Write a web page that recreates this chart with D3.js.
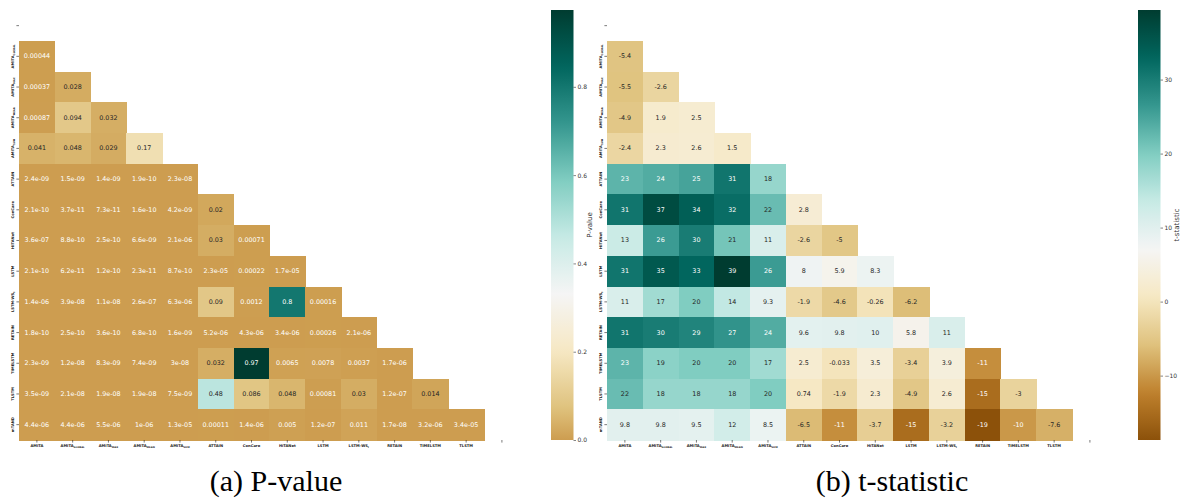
<!DOCTYPE html>
<html lang="en">
<head>
<meta charset="utf-8">
<title>P-value and t-statistic heatmaps</title>
<script src="https://cdn.jsdelivr.net/npm/d3@7/dist/d3.min.js"></script>
<style>
body{ margin:0; background:#fff; }
svg{ display:block; }
.tick-label{ font-family:"DejaVu Sans", sans-serif; font-weight:bold; fill:#1a1a1a; }
.annot{ font-family:"DejaVu Sans", sans-serif; }
.cbar text{ font-family:"DejaVu Sans", sans-serif; fill:#333; }
.caption{ font-family:"Liberation Serif", serif; fill:#000; }
</style>
</head>
<body>
<script>
// models, same order on both axes (row 0 and last column are fully masked)
var models = ["AMITA","AMITA_GLOBAL","AMITA_MAX","AMITA_MEAN","AMITA_SUM","ATTAIN","ConCare",
              "HiTANet","LSTM","LSTM-WS_t","RETAIN","TIMELSTM","TLSTM","mTAND"];

// lower triangle, row i has i values (columns 0..i-1)
var pValues = [
  [],
  [0.00044],
  [0.00037, 0.028],
  [0.00087, 0.094, 0.032],
  [0.041, 0.048, 0.029, 0.17],
  [2.4e-09, 1.5e-09, 1.4e-09, 1.9e-10, 2.3e-08],
  [2.1e-10, 3.7e-11, 7.3e-11, 1.6e-10, 4.2e-09, 0.02],
  [3.6e-07, 8.8e-10, 2.5e-10, 6.6e-09, 2.1e-06, 0.03, 0.00071],
  [2.1e-10, 6.2e-11, 1.2e-10, 2.3e-11, 8.7e-10, 2.3e-05, 0.00022, 1.7e-05],
  [1.4e-06, 3.9e-08, 1.1e-08, 2.6e-07, 6.3e-06, 0.09, 0.0012, 0.8, 0.00016],
  [1.8e-10, 2.5e-10, 3.6e-10, 6.8e-10, 1.6e-09, 5.2e-06, 4.3e-06, 3.4e-06, 0.00026, 2.1e-06],
  [2.3e-09, 1.2e-08, 8.3e-09, 7.4e-09, 3e-08, 0.032, 0.974, 0.0065, 0.0078, 0.0037, 1.7e-06],
  [3.5e-09, 2.1e-08, 1.9e-08, 1.9e-08, 7.5e-09, 0.48, 0.086, 0.048, 0.00081, 0.03, 1.2e-07, 0.014],
  [4.4e-06, 4.4e-06, 5.5e-06, 1e-06, 1.3e-05, 0.00011, 1.4e-06, 0.005, 1.2e-07, 0.011, 1.7e-08, 3.2e-06, 3.4e-05]
];

var tValues = [
  [],
  [-5.4],
  [-5.5, -2.6],
  [-4.9, 1.9, 2.5],
  [-2.4, 2.3, 2.6, 1.5],
  [23, 24, 25, 31, 18],
  [31, 37, 34, 32, 22, 2.8],
  [13, 26, 30, 21, 11, -2.6, -5],
  [31, 35, 33, 39.4, 26, 8, 5.9, 8.3],
  [11, 17, 20, 14, 9.3, -1.9, -4.6, -0.26, -6.2],
  [31, 30, 29, 27, 24, 9.6, 9.8, 10, 5.8, 11],
  [23, 19, 20, 20, 17, 2.5, -0.033, 3.5, -3.4, 3.9, -11],
  [22, 18, 18, 18, 20, 0.74, -1.9, 2.3, -4.9, 2.6, -15, -3],
  [9.8, 9.8, 9.5, 12, 8.5, -6.5, -11, -3.7, -15, -3.2, -18.7, -10, -7.6]
];

var pTicks = [0, 0.2, 0.4, 0.6, 0.8];
var tTicks = [-10, 0, 10, 20, 30];
var pCenter = 0.33;
var tCenter = 7.1;

var W = 1184, H = 500;

// matplotlib BrBG segment colours
var brbg = d3.piecewise(d3.interpolateRgb, ["#543005","#8c510a","#bf812d","#dfc27d","#f6e8c3",
  "#f5f5f5","#c7eae5","#80cdc1","#35978f","#01665e","#003c30"]);

// seaborn ".2g" style annotation text
function fmt(v){
  var a = Math.abs(v);
  if (a !== 0 && a < 1e-4) {
    var s = v.toExponential(1).split("e");
    var m = s[0].replace(/\.0$/, "");
    var e = +s[1];
    return m + "e" + (e < 0 ? "-" : "+") + (Math.abs(e) < 10 ? "0" : "") + Math.abs(e);
  }
  var t = v.toPrecision(2);
  if (t.indexOf(".") >= 0) t = t.replace(/0+$/, "").replace(/\.$/, "");
  return t;
}

function luminance(c){
  var rgb = d3.rgb(c);
  var f = function(x){ x = x / 255; return x <= 0.03928 ? x / 12.92 : Math.pow((x + 0.055) / 1.055, 2.4); };
  return 0.2126 * f(rgb.r) + 0.7152 * f(rgb.g) + 0.0722 * f(rgb.b);
}

// label like "AMITA_GLOBAL" -> main text + small subscript
function addLabel(sel, label, size){
  var parts = label.split("_");
  sel.append("tspan").text(parts[0]);
  if (parts.length > 1) {
    sel.append("tspan")
      .attr("font-size", size * 0.68)
      .attr("dy", size * 0.3)
      .text(parts[1]);
  }
}

var svg = d3.select("body").append("svg")
  .attr("width", W)
  .attr("height", H);

function drawPanel(values, x0, cbarX, ticks, tickFmt, center, title){
  var n = models.length;
  var x = d3.scaleBand().domain(d3.range(n)).range([x0, x0 + 500.8]);
  var y = d3.scaleBand().domain(d3.range(n)).range([10.3, 440]);

  var flat = [];
  values.forEach(function(row, i){
    row.forEach(function(v, j){ flat.push({i: i, j: j, v: v}); });
  });
  var vmin = d3.min(flat, function(d){ return d.v; });
  var vmax = d3.max(flat, function(d){ return d.v; });
  var vrange = Math.max(vmax - center, center - vmin);
  var norm = d3.scaleLinear().domain([center - vrange, center + vrange]).range([0, 1]);
  var color = function(v){ return brbg(norm(v)); };

  var g = svg.append("g");

  // all rects first, then the annotations on top
  g.selectAll("rect.cell")
    .data(flat)
    .enter()
    .append("rect")
    .attr("class", "cell")
    .attr("x", function(d){ return x(d.j); })
    .attr("y", function(d){ return y(d.i); })
    .attr("width", x.bandwidth() + 0.6)
    .attr("height", y.bandwidth() + 0.6)
    .attr("shape-rendering", "crispEdges")
    .attr("fill", function(d){ return color(d.v); });

  g.selectAll("text.annot")
    .data(flat)
    .enter()
    .append("text")
    .attr("class", "annot")
    .attr("x", function(d){ return x(d.j) + x.bandwidth() / 2; })
    .attr("y", function(d){ return y(d.i) + y.bandwidth() / 2; })
    .attr("text-anchor", "middle")
    .attr("dominant-baseline", "central")
    .attr("font-size", 6.4)
    .attr("fill", function(d){ return luminance(color(d.v)) > 0.408 ? "#262626" : "#ffffff"; })
    .text(function(d){ return fmt(d.v); });

  // y ticks and rotated labels
  d3.range(n).forEach(function(i){
    var cy = y(i) + y.bandwidth() / 2;
    g.append("line")
      .attr("x1", x0 - 2.6).attr("x2", x0)
      .attr("y1", cy).attr("y2", cy)
      .attr("stroke", "#222").attr("stroke-width", 0.6);
    if (i === 0) return;
    var t = g.append("text")
      .attr("class", "tick-label")
      .attr("font-size", 3.7)
      .attr("text-anchor", "middle")
      .attr("transform", "translate(" + (x0 - 5.5) + "," + cy + ") rotate(-90)");
    addLabel(t, models[i], 3.7);
  });

  // x ticks and labels
  d3.range(n).forEach(function(j){
    var cx = x(j) + x.bandwidth() / 2;
    g.append("line")
      .attr("x1", cx).attr("x2", cx)
      .attr("y1", 440).attr("y2", 442.6)
      .attr("stroke", "#222").attr("stroke-width", 0.6);
    if (j === n - 1) return;
    var t = g.append("text")
      .attr("class", "tick-label")
      .attr("font-size", 3.7)
      .attr("text-anchor", "middle")
      .attr("x", cx)
      .attr("y", 447);
    addLabel(t, models[j], 3.7);
  });

  // colorbar
  var cb = svg.append("g").attr("class", "cbar");
  var cy = d3.scaleLinear().domain([vmin, vmax]).range([440, 10]);
  var gradId = "grad" + Math.round(x0);
  var grad = svg.append("defs").append("linearGradient")
    .attr("id", gradId)
    .attr("x1", 0).attr("y1", 1).attr("x2", 0).attr("y2", 0);
  d3.range(0, 1.0001, 0.02).forEach(function(f){
    grad.append("stop")
      .attr("offset", f)
      .attr("stop-color", color(vmin + f * (vmax - vmin)));
  });
  cb.append("rect")
    .attr("x", cbarX).attr("y", 10)
    .attr("width", 22.5).attr("height", 430)
    .attr("fill", "url(#" + gradId + ")");

  var axis = d3.axisRight(cy).tickValues(ticks).tickFormat(tickFmt).tickSize(2.5).tickPadding(1.5);
  var ax = cb.append("g")
    .attr("transform", "translate(" + (cbarX + 22.5) + ",0)")
    .call(axis);
  ax.select(".domain").remove();
  ax.selectAll(".tick line").attr("stroke", "#333").attr("stroke-width", 0.6);
  ax.selectAll(".tick text").attr("font-size", 6).attr("fill", "#333");

  cb.append("text")
    .attr("transform", "translate(" + (cbarX + 41) + ",225) rotate(-90)")
    .attr("text-anchor", "middle")
    .attr("font-size", 7)
    .text(title);
}

drawPanel(pValues, 19, 551, pTicks, d3.format(".1f"), pCenter, "P-value");
drawPanel(tValues, 607, 1138, tTicks, function(d){ return d < 0 ? "\u2212" + Math.abs(d) : d; }, tCenter, "t-statistic");

svg.append("text").attr("class", "caption")
  .attr("x", 276).attr("y", 491)
  .attr("text-anchor", "middle")
  .attr("font-size", 30)
  .text("(a) P-value");

svg.append("text").attr("class", "caption")
  .attr("x", 892).attr("y", 491)
  .attr("text-anchor", "middle")
  .attr("font-size", 30)
  .text("(b) t-statistic");
</script>
</body>
</html>
